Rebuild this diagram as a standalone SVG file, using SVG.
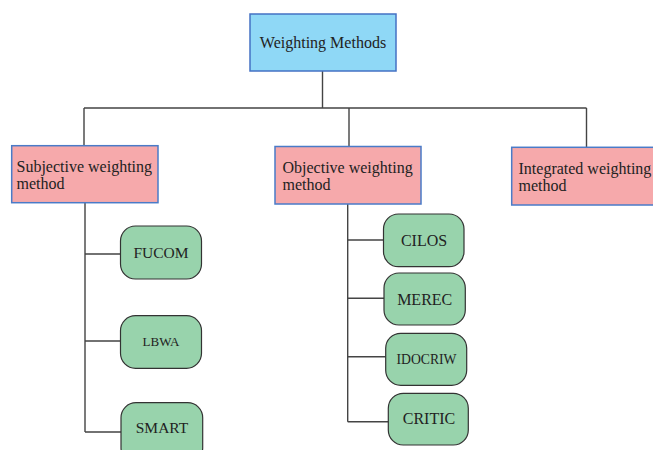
<svg xmlns="http://www.w3.org/2000/svg" width="653" height="450" viewBox="0 0 653 450">
<style>
text{font-family:"Liberation Serif","Times New Roman",serif;fill:#222}
.root{fill:#8fd8f6;stroke:#4472c4;stroke-width:1.5}
.cat{fill:#f6a9ab;stroke:#4a7bc8;stroke-width:1.5}
.leaf{fill:#98d3ac;stroke:#333;stroke-width:1.2}
.ln{fill:none;stroke:#444;stroke-width:1.4}
.c{text-anchor:middle}
</style>
<rect width="653" height="450" fill="#fff"/>
<g id="connectors">
<path class="ln" d="M322.5 71V108M84 108H586.5M84 108V146M349 108V146M586.5 108V147"/>
<path class="ln" d="M85 203V432M85 254H120.5M85 341H120.5M85 432H121"/>
<path class="ln" d="M347.7 204V421.7M347.7 240H383.5M347.7 298.3H384M347.7 356.7H385.7M347.7 421.7H388.3"/>
</g>
<g id="n-root"><rect class="root" x="250" y="14" width="146" height="57"/><text x="323" y="47.5" class="c" font-size="16">Weighting Methods</text></g>
<g id="n-subjective"><rect class="cat" x="11.7" y="145.7" width="146.3" height="57"/><text x="16.5" y="172" font-size="16">Subjective weighting</text><text x="16.5" y="189" font-size="16">method</text></g>
<g id="n-objective"><rect class="cat" x="275" y="146.5" width="146" height="57.5"/><text x="282.5" y="172.5" font-size="16">Objective weighting</text><text x="282.5" y="189.5" font-size="16">method</text></g>
<g id="n-integrated"><rect class="cat" x="511.7" y="147.3" width="145" height="57.7"/><text x="518.5" y="173.5" font-size="16">Integrated weighting</text><text x="518.5" y="190.7" font-size="16">method</text></g>
<g id="n-fucom"><rect class="leaf" x="120.5" y="226" width="81" height="53" rx="15"/><text x="161" y="258" class="c" font-size="15.5">FUCOM</text></g>
<g id="n-lbwa"><rect class="leaf" x="120.5" y="315.7" width="81" height="52.6" rx="15"/><text x="161" y="346" class="c" font-size="13">LBWA</text></g>
<g id="n-smart"><rect class="leaf" x="121" y="402.7" width="81.7" height="60" rx="15"/><text x="162" y="432.5" class="c" font-size="15.5">SMART</text></g>
<g id="n-cilos"><rect class="leaf" x="383.5" y="214" width="80.5" height="52.7" rx="15"/><text x="424" y="246" class="c" font-size="16">CILOS</text></g>
<g id="n-merec"><rect class="leaf" x="384" y="273" width="81.3" height="52" rx="15"/><text x="424.7" y="304.5" class="c" font-size="16">MEREC</text></g>
<g id="n-idocriw"><rect class="leaf" x="385.7" y="333.3" width="81" height="52" rx="15"/><text x="426.5" y="364" class="c" font-size="13.7">IDOCRIW</text></g>
<g id="n-critic"><rect class="leaf" x="388.3" y="393.3" width="80" height="51.7" rx="15"/><text x="429" y="424" class="c" font-size="16">CRITIC</text></g>
</svg>
